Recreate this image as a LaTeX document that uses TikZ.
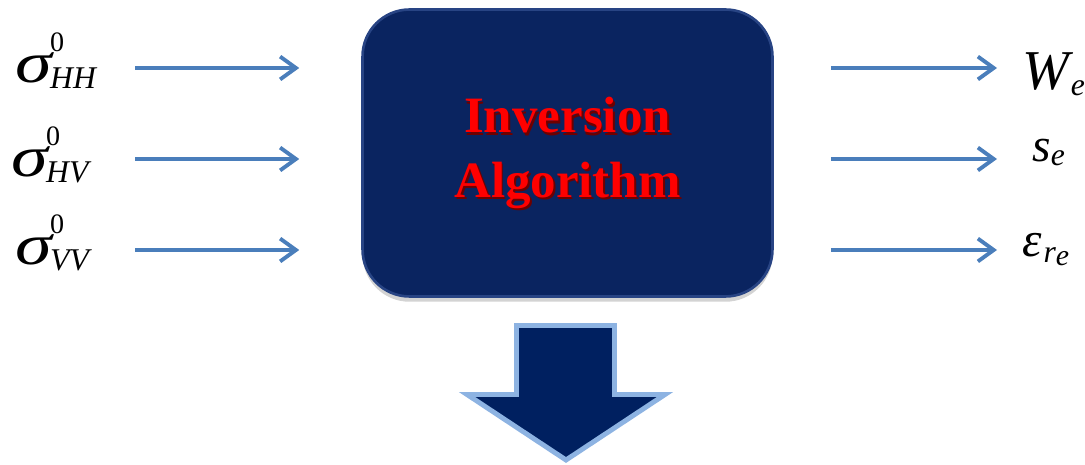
\documentclass[tikz,border=0pt]{standalone}
\usepackage{fontspec}
\setmainfont{Liberation Serif}
\usetikzlibrary{arrows.meta, positioning, shadows}
\definecolor{boxnavy}{RGB}{10,36,96}
\definecolor{boxrim}{RGB}{40,68,132}
\definecolor{flowblue}{RGB}{74,126,187}
\definecolor{downnavy}{RGB}{0,32,96}
\definecolor{downrim}{RGB}{141,179,226}
\definecolor{shadered}{RGB}{110,0,0}

\newcommand{\sigmazero}[1]{\scalebox{1.28}[1]{\fontsize{33}{33}\selectfont\itshape σ}\kern-1pt\rlap{\raisebox{18pt}{\fontsize{16}{16}\selectfont 0}}\raisebox{-3pt}{\fontsize{18}{18}\selectfont\itshape #1}}

\begin{document}
\begin{tikzpicture}[
  x=0.02cm, y=-0.02cm,
  flow/.style={draw=flowblue, line width=2.2pt, -{Straight Barb[length=9pt, width=13pt]}},
  symlabel/.style={anchor=base west, inner sep=0pt},
  algbox/.style={fill=boxnavy, draw=boxrim, line width=1.5pt, rounded corners=0.94cm,
    minimum width=8.2cm, minimum height=5.74cm, inner sep=0pt,
    drop shadow={shadow xshift=0pt, shadow yshift=-3pt, opacity=0.35}},
  algtext/.style={align=center, inner sep=0pt, font=\fontsize{29}{36.5}\selectfont\bfseries}
]
\useasboundingbox (0,0) rectangle (1085,465);

\node[algbox] (box) at (567.5,153) {};
\node[algtext, text=shadered] (algshade) at ([xshift=1pt, yshift=-1.2pt]box.center) {Inversion\\Algorithm};
\node[algtext, text=red] (alg) at (box.center) {Inversion\\Algorithm};

\node[symlabel] (hh) at (15,83) {\sigmazero{HH}};
\node[symlabel] (hv) at (11,177) {\sigmazero{HV}};
\node[symlabel] (vv) at (15,265) {\sigmazero{VV}};

\node[symlabel] (we) at (1022,90) {{\fontsize{32}{32}\selectfont\itshape W}\kern1pt\raisebox{-3pt}{\fontsize{18}{18}\selectfont\itshape e}};
\node[symlabel] (se) at (1032,162) {{\fontsize{27}{27}\selectfont\itshape s}\raisebox{-2pt}{\fontsize{18}{18}\selectfont\itshape e}};
\node[symlabel] (er) at (1022,257) {{\fontsize{28}{28}\selectfont\itshape ε}\kern1pt\raisebox{-3pt}{\fontsize{18}{18}\selectfont\itshape r}\raisebox{-5pt}{\fontsize{17}{17}\selectfont\itshape e}};

\coordinate (inHH) at (135,68);
\coordinate (inHV) at (135,159);
\coordinate (inVV) at (135,250);
\coordinate (outW) at (997,68);
\coordinate (outS) at (997,159);
\coordinate (outE) at (997,250);

\draw[flow, shorten >=1.24cm] (inHH) -- (inHH -| box.west);
\draw[flow, shorten >=1.24cm] (inHV) -- (inHV -| box.west);
\draw[flow, shorten >=1.24cm] (inVV) -- (inVV -| box.west);
\draw[flow, shorten <=1.14cm] (outW -| box.east) -- (outW);
\draw[flow, shorten <=1.14cm] (outS -| box.east) -- (outS);
\draw[flow, shorten <=1.14cm] (outE -| box.east) -- (outE);

\filldraw[fill=downnavy, draw=downrim, line width=2.8pt, line join=miter]
  (516.5,325.5) -- (614.5,325.5) -- (614.5,394.5) -- (665,394.5) -- (566,460)
  -- (467,394.5) -- (516.5,394.5) -- cycle;
\end{tikzpicture}
\end{document}
